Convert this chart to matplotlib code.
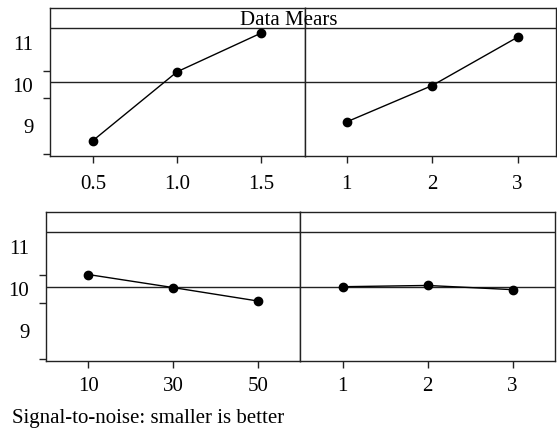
import matplotlib
matplotlib.use("Agg")
import matplotlib.pyplot as plt
import numpy as np

plt.rcParams['font.family'] = ['Liberation Serif', 'DejaVu Serif']

# Data
title = "Data Mears"
caption = "Signal-to-noise: smaller is better"
levels_a = [0.5, 1.0, 1.5]
means_a = [8.66, 10.31, 11.24]
levels_b = [1, 2, 3]
means_b = [9.11, 9.98, 11.14]
levels_c = [10, 30, 50]
means_c = [10.35, 10.04, 9.72]
levels_d = [1, 2, 3]
means_d = [10.06, 10.09, 9.99]
xtick_a = ["0.5", "1.0", "1.5"]
xtick_b = ["1", "2", "3"]
xtick_c = ["10", "30", "50"]
xtick_d = ["1", "2", "3"]
ytick_vals = [9, 10, 11]
ytick_labels = ["9", "10", "11"]
ytick_marks = [8.33, 9.0, 9.67, 10.33, 11.0]

W, H = 557, 429
fig = plt.figure(figsize=(W / 100, H / 100), dpi=100)

def px_axes(x0, x1, y0, y1):
    return fig.add_axes([x0 / W, 1 - y1 / H, (x1 - x0) / W, (y1 - y0) / H])

YLIM = (8.29, 11.84)
HEADER = 11.37
FS = 15
LC = '#222222'

def style(ax, levels, means, ticklabels, xlim, show_y, mean_val, xpad):
    ax.plot(levels, means, color='black', lw=1.0, marker='o', ms=6, mfc='black', mec='black', zorder=3)
    ax.axhline(mean_val, color=LC, lw=1.0, zorder=1)
    ax.axhline(HEADER, color=LC, lw=1.0, zorder=1)
    ax.set_xlim(*xlim)
    ax.set_ylim(*YLIM)
    ax.set_xticks(levels)
    ax.set_xticklabels(ticklabels, fontsize=FS)
    ax.tick_params(axis='x', direction='out', length=5, width=1, pad=xpad, color=LC)
    if show_y:
        ax.set_yticks(ytick_vals)
        ax.set_yticklabels(ytick_labels, fontsize=FS)
        ax.set_yticks(ytick_marks, minor=True)
        ax.tick_params(axis='y', which='major', length=0, pad=12)
        ax.tick_params(axis='y', which='minor', length=5, width=1, direction='out', color=LC)
    else:
        ax.set_yticks([])
    for s in ax.spines.values():
        s.set_color(LC)
        s.set_linewidth(1.0)

allm_top = means_a + means_b
allm_bot = means_c + means_d

ax1 = px_axes(50, 305, 8, 156)
style(ax1, levels_a, means_a, xtick_a, (0.245, 1.76), True, np.mean(allm_top), 9)
ax2 = px_axes(305, 556, 8, 156)
style(ax2, levels_b, means_b, xtick_b, (0.51, 3.45), False, np.mean(allm_top), 9)
ax3 = px_axes(46, 300, 212, 361)
style(ax3, levels_c, means_c, xtick_c, (0, 60), True, np.mean(allm_bot), 6.5)
ax4 = px_axes(300, 555, 212, 361)
style(ax4, levels_d, means_d, xtick_d, (0.5, 3.5), False, np.mean(allm_bot), 6.5)

fig.text(289 / W, 1 - 25 / H, title, ha='center', va='baseline', fontsize=FS)
fig.text(11.7 / W, 1 - 423 / H, caption, ha='left', va='baseline', fontsize=FS)

fig.savefig("out.png", dpi=100)
